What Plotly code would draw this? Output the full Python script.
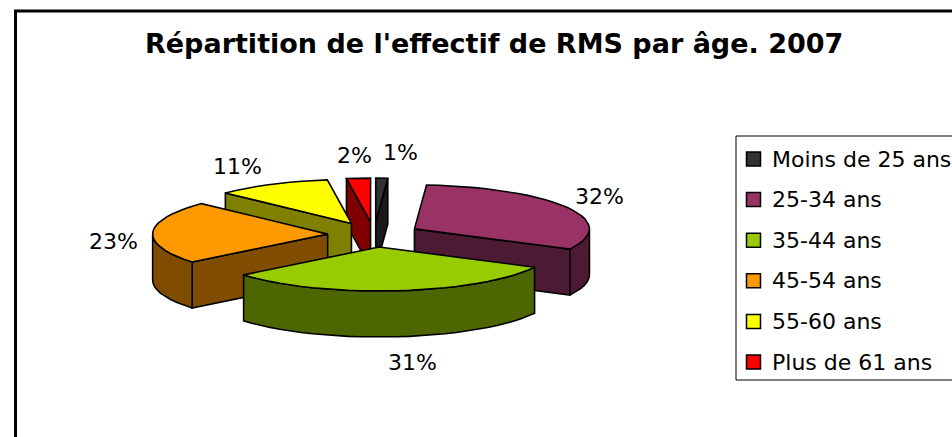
import numpy as np
import plotly.graph_objects as go

# ---- data ----
categories = ["Moins de 25 ans", "25-34 ans", "35-44 ans", "45-54 ans", "55-60 ans", "Plus de 61 ans"]
shares = [1.1, 31.5, 31.5, 23.1, 10.6, 2.2]
share_labels = ["1%", "32%", "31%", "23%", "11%", "2%"]

# ---- styles ----
top_colors = ["#333333", "#993366", "#99CC00", "#FF9900", "#FFFF00", "#FF0000"]
wall_colors = ["#1A1A1A", "#4D1A33", "#4D6600", "#804D00", "#808000", "#800000"]
W, H = 952, 437
CX, CY, RX, RY, DEPTH = 374, 234.6, 175, 44, 46
explode = [0.284, 0.265, 0.284, 0.265, 0.284, 0.284]
LABEL_GAP_X, LABEL_GAP_Y = 35, 26
label_nudges = [(18, 0), (2, 2), (12, 0), (-4, 10), (-19, 5), (-2, 3)]
FONT = "DejaVu Sans"
INK = "#000000"


def point(ox, oy, deg, dy=0.0):
    t = np.radians(deg)
    return ox + RX * np.sin(t), oy - RY * np.cos(t) + dy


def arc(ox, oy, a, b, dy=0.0, step=4.0):
    n = max(2, int(abs(b - a) / step) + 1)
    t = np.linspace(a, b, n)
    x, y = point(ox, oy, t, dy)
    return list(x), list(y)


def poly(x, y, fill, name):
    return go.Scatter(x=x + x[:1], y=y + y[:1], mode="lines", fill="toself", fillcolor=fill,
                      line=dict(color=INK, width=1.6), hoverinfo="text", text=name, showlegend=False)


fig = go.Figure()
edges = np.concatenate([[0], np.cumsum(shares)]) / np.sum(shares) * 360
slices = []
for i in range(len(shares)):
    a, b = edges[i], edges[i + 1]
    mid = (a + b) / 2
    ox = CX + explode[i] * RX * np.sin(np.radians(mid))
    oy = CY - explode[i] * RY * np.cos(np.radians(mid))
    slices.append((i, a, b, mid, ox, oy))

draw_order = [0, 5, 4, 3, 1, 2]
for i in draw_order:
    _, a, b, mid, ox, oy = slices[i]
    name = f"{categories[i]}: {share_labels[i]}"
    # visible cut faces
    for edge, visible in ((a, np.sin(np.radians(a)) < 0), (b, np.sin(np.radians(b)) > 0)):
        if visible:
            ex, ey = point(ox, oy, edge)
            fig.add_trace(poly([ox, float(ex), float(ex), ox], [oy, float(ey), float(ey) + DEPTH, oy + DEPTH],
                               wall_colors[i], name))
    # outer wall on the front half
    lo, hi = max(a, 90), min(b, 270)
    if hi > lo:
        tx, ty = arc(ox, oy, lo, hi)
        bx, by = arc(ox, oy, hi, lo, DEPTH)
        fig.add_trace(poly(tx + bx, ty + by, wall_colors[i], name))
    # top face
    tx, ty = arc(ox, oy, a, b)
    fig.add_trace(poly([ox] + tx, [oy] + ty, top_colors[i], name))

annotations = []
for i, a, b, mid, ox, oy in slices:
    t = np.radians(mid)
    lx = ox + (RX + LABEL_GAP_X) * np.sin(t) + label_nudges[i][0]
    ly = oy - (RY + LABEL_GAP_Y) * np.cos(t) + (DEPTH if np.cos(t) < 0 else 0) + label_nudges[i][1]
    annotations.append(dict(x=lx, y=ly, text=share_labels[i], showarrow=False, xanchor="center", yanchor="middle",
                            font=dict(family=FONT, size=22, color=INK)))

annotations.append(dict(x=494, y=43, text="<b>Répartition de l'effectif de RMS par âge. 2007</b>", showarrow=False,
                        xanchor="center", yanchor="middle", font=dict(family=FONT, size=27, color=INK)))

# legend
LEG_X, LEG_Y0, LEG_STEP = 753.5, 159, 40.6
shapes = [
    dict(type="line", x0=15.5, x1=15.5, y0=11, y1=H, line=dict(color=INK, width=3)),
    dict(type="line", x0=14, x1=W, y0=11, y1=11, line=dict(color=INK, width=3)),
    dict(type="rect", x0=736, x1=W + 20, y0=136, y1=380, line=dict(color=INK, width=1), fillcolor="white", layer="below"),
]
fig.add_trace(go.Scatter(x=[LEG_X] * len(categories), y=[LEG_Y0 + LEG_STEP * i for i in range(len(categories))],
                         mode="markers", hoverinfo="skip", showlegend=False,
                         marker=dict(symbol="square", size=14, color=top_colors, line=dict(color=INK, width=1.5))))
for i, c in enumerate(categories):
    annotations.append(dict(x=770, y=LEG_Y0 + LEG_STEP * i, text=c, showarrow=False, xanchor="left", yanchor="middle",
                            font=dict(family=FONT, size=22, color=INK)))

fig.update_layout(
    width=W, height=H, margin=dict(l=0, r=0, t=0, b=0), paper_bgcolor="white", plot_bgcolor="white",
    showlegend=False, shapes=shapes, annotations=annotations,
    xaxis=dict(range=[0, W], visible=False, fixedrange=True),
    yaxis=dict(range=[H, 0], visible=False, fixedrange=True),
)
fig.write_html("out.html", config=dict(displayModeBar=False),
               post_script="document.body.style.margin='0';")
